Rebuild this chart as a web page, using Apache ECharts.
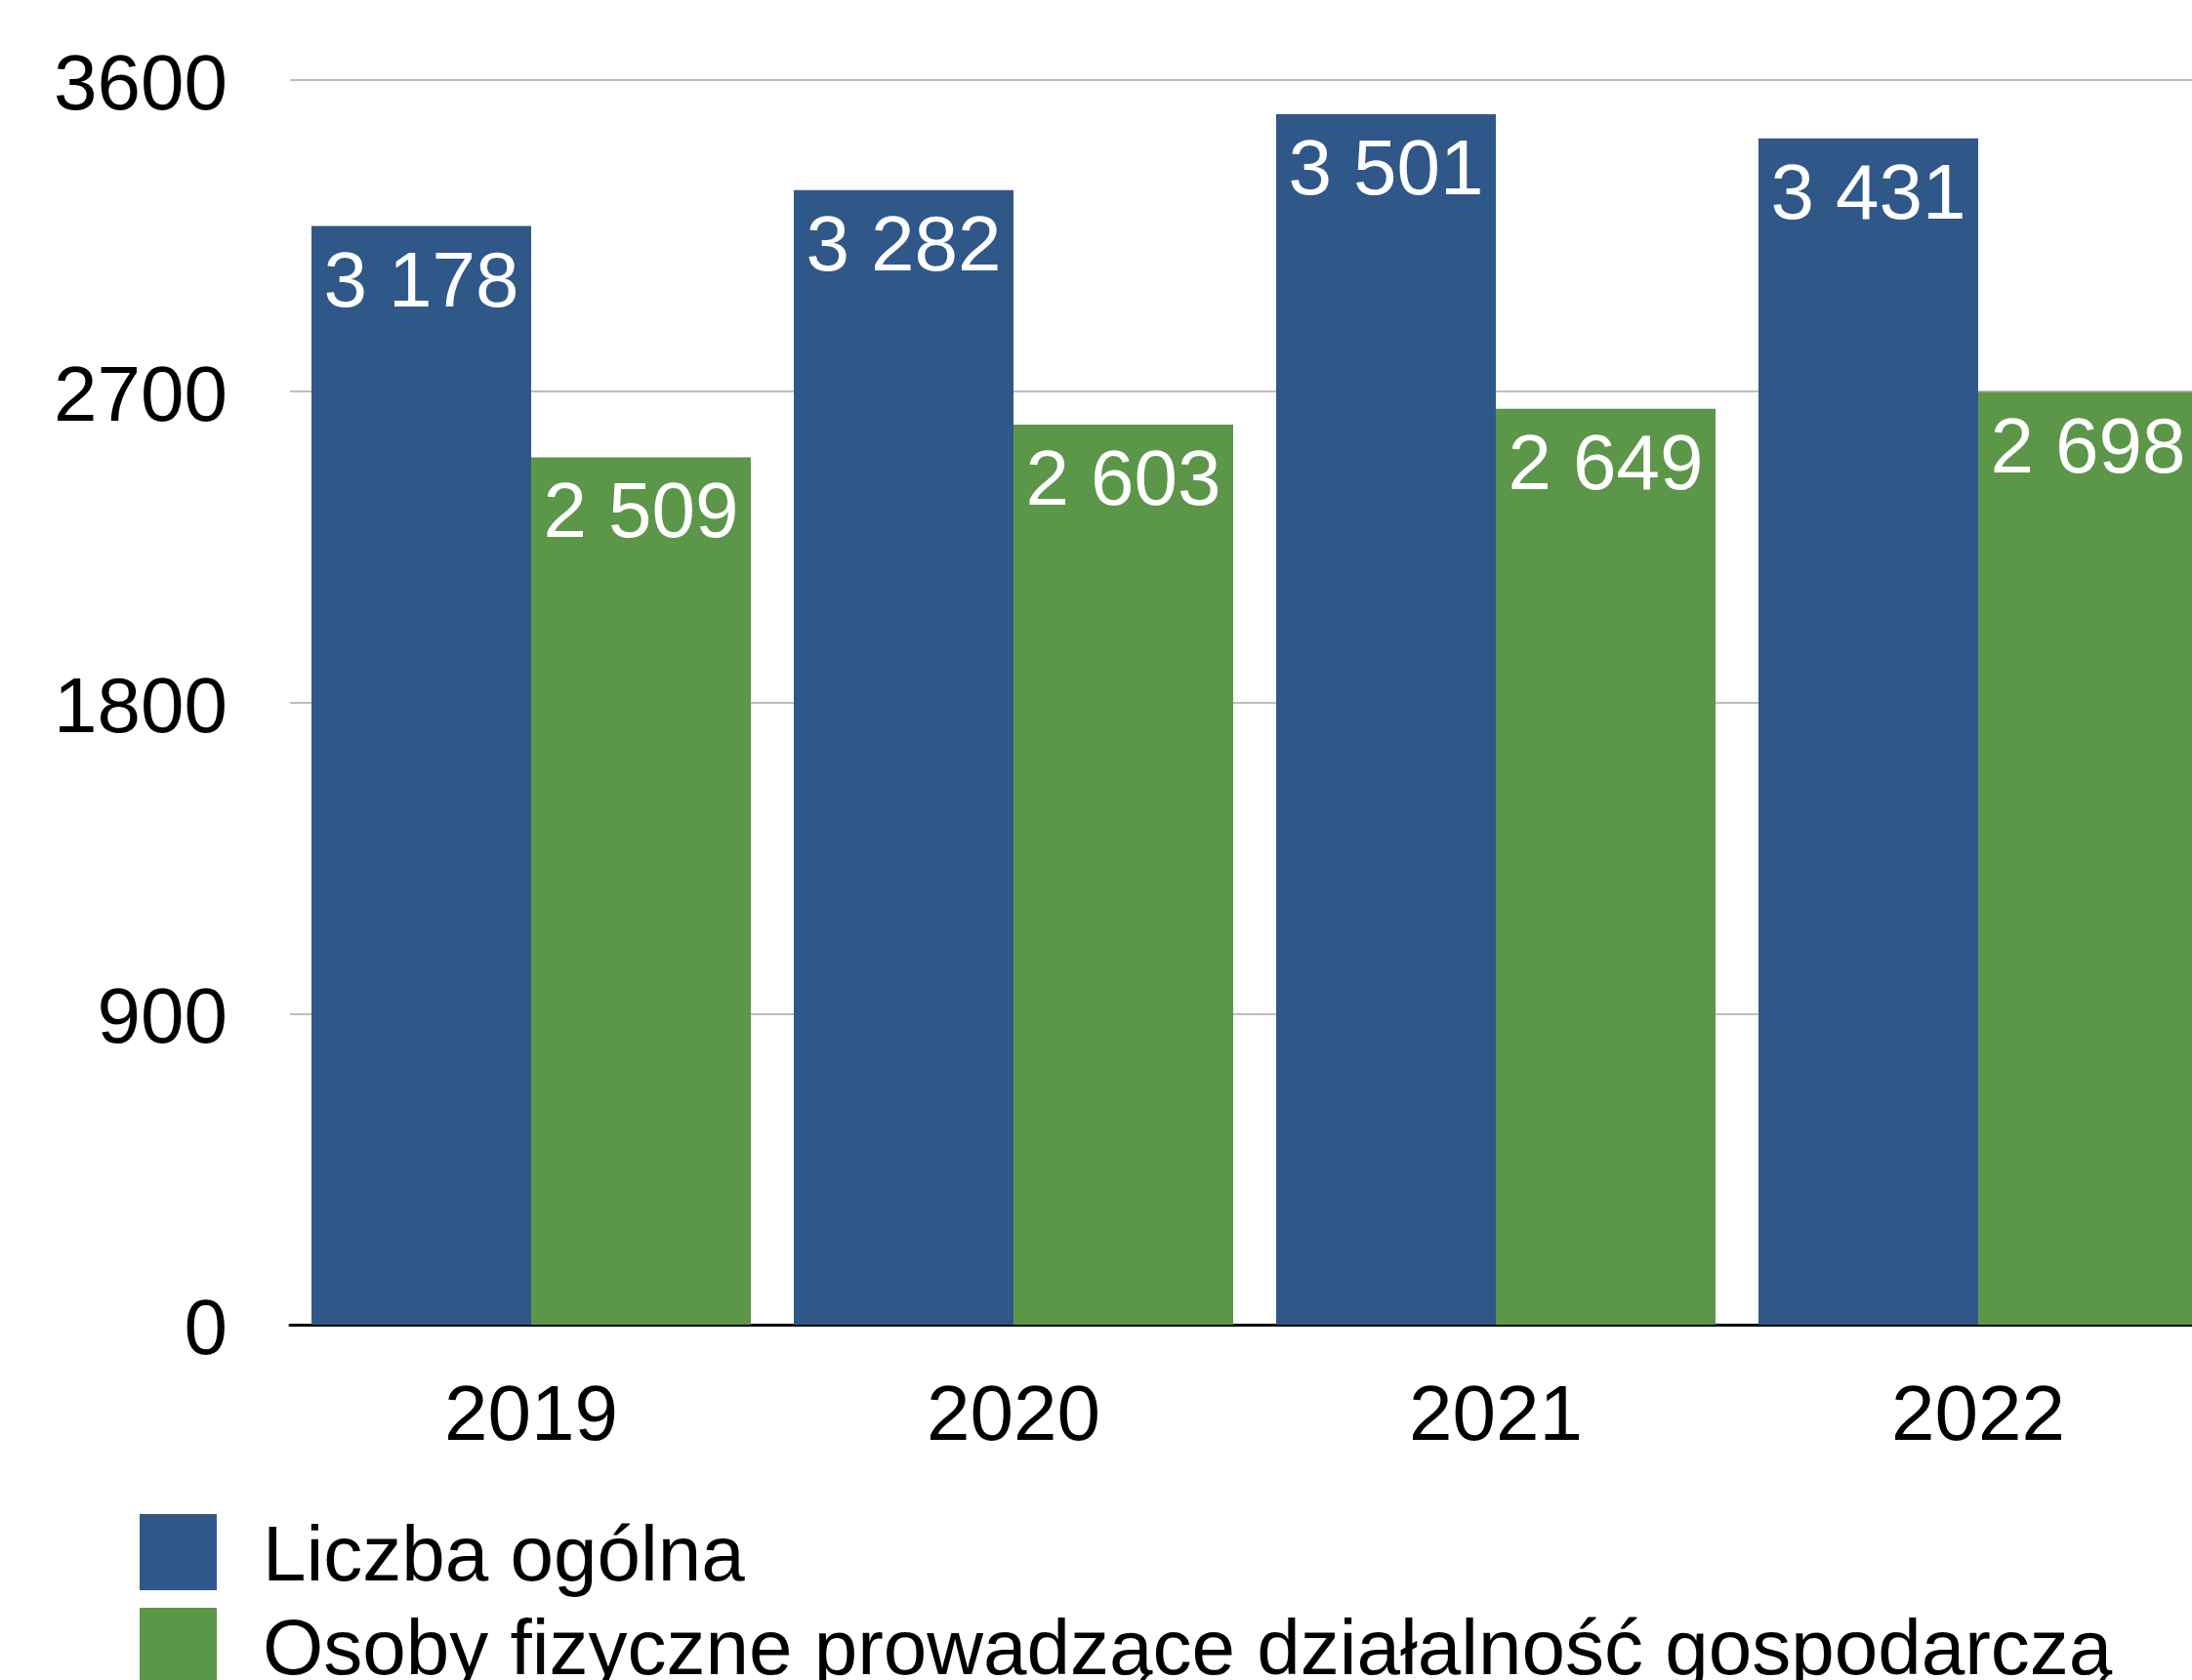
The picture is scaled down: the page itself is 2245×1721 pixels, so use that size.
<!DOCTYPE html>
<html>
<head>
<meta charset="utf-8">
<script src="https://cdn.jsdelivr.net/npm/echarts@6/dist/echarts.min.js"></script>
<style>
  html, body { margin: 0; padding: 0; background: #fff; }
  #chart { width: 2245px; height: 1721px; }
</style>
</head>
<body>
<div id="chart"></div>
<script>
// dane z wykresu
const years = ['2019', '2020', '2021', '2022'];
const ogolna = [3178, 3282, 3501, 3431];
const osobyFizyczne = [2509, 2603, 2649, 2698];
const seriesNames = ['Liczba ogólna', 'Osoby fizyczne prowadzące działalność gospodarczą'];

const FONT = '"Liberation Sans", Arial, Helvetica, sans-serif';

// "3178" -> "3 178"
function withSpace(v) {
  return String(v).replace(/\B(?=(\d{3})+(?!\d))/g, ' ');
}

const chart = echarts.init(document.getElementById('chart'));

const barLabel = {
  show: true,
  position: 'insideTop',
  distance: 20,
  color: '#fff',
  fontFamily: FONT,
  fontSize: 80,
  formatter: p => withSpace(p.value)
};

chart.setOption({
  animation: false,
  backgroundColor: '#fff',
  textStyle: { fontFamily: FONT },
  grid: {
    left: 297,
    right: -28,
    top: 82,
    bottom: 364,
    containLabel: false,
    outerBoundsMode: 'none'
  },
  legend: {
    orient: 'vertical',
    left: 143,
    top: 1551,
    height: 400,
    icon: 'rect',
    itemWidth: 79,
    itemHeight: 78,
    itemGap: 10,
    padding: 0,
    formatter: name => '{t|' + name + '}',
    textStyle: {
      fontFamily: FONT, fontSize: 80, color: '#000',
      rich: {
        t: { fontFamily: FONT, fontSize: 80, color: '#000', padding: [14, 0, 0, 42] }
      }
    },
    data: seriesNames
  },
  xAxis: {
    type: 'category',
    data: years,
    axisLine: { lineStyle: { color: '#000', width: 3 } },
    axisTick: { show: false },
    axisLabel: { color: '#000', fontSize: 80, fontFamily: FONT, margin: 56 }
  },
  yAxis: {
    type: 'value',
    min: 0,
    max: 3600,
    interval: 900,
    axisLine: { show: false },
    axisTick: { show: false },
    axisLabel: {
      color: '#000', margin: 64,
      formatter: v => '{n|' + v + '}',
      rich: {
        n: { fontSize: 80, fontFamily: FONT, color: '#000', padding: [16, 0, 0, 0] }
      }
    },
    splitLine: { lineStyle: { color: '#bdbdbd', width: 2 } }
  },
  series: [
    {
      name: seriesNames[0],
      type: 'bar',
      data: ogolna,
      barWidth: 225,
      barGap: '0%',
      itemStyle: { color: '#2f5889' },
      label: barLabel
    },
    {
      name: seriesNames[1],
      type: 'bar',
      data: osobyFizyczne,
      barWidth: 225,
      itemStyle: { color: '#5c9649' },
      label: barLabel
    }
  ]
});
</script>
</body>
</html>
